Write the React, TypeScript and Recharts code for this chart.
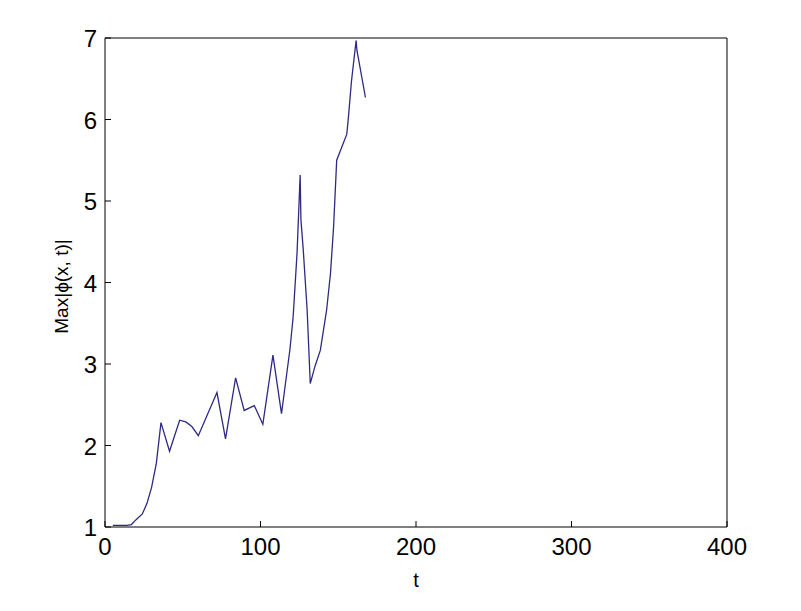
import React from "react";
import { LineChart, Line, XAxis, YAxis } from "recharts";

const tValues = [5, 14, 17, 20, 24, 27, 30, 33, 36, 41.5, 48, 52, 56, 60, 72, 77.5, 84, 89.5, 96, 101.5, 108, 113.5, 119, 121, 123.5, 125.5, 126, 127.5, 130, 132, 135, 138.5, 142.5, 145, 147, 149, 155.5, 156.5, 158.5, 161.5, 162, 167.5];
const maxPhi = [1.02, 1.02, 1.03, 1.09, 1.16, 1.29, 1.49, 1.78, 2.28, 1.93, 2.31, 2.29, 2.23, 2.12, 2.65, 2.08, 2.83, 2.43, 2.49, 2.26, 3.11, 2.39, 3.19, 3.58, 4.36, 5.32, 4.77, 4.4, 3.66, 2.76, 2.97, 3.17, 3.66, 4.11, 4.68, 5.5, 5.82, 6.02, 6.47, 6.97, 6.85, 6.27];
const xTicks = [0, 100, 200, 300, 400];
const yTicks = [1, 2, 3, 4, 5, 6, 7];

const data = tValues.map((t, i) => ({ t, v: maxPhi[i] }));

const FONT = "'Liberation Sans', Arial, Helvetica, sans-serif";

// Plot box inside the svg
const M = { top: 30, right: 66, bottom: 76, left: 97 };
const W = 785;
const H = 595;

const BottomTick = (props: any) => {
  const { x, payload } = props;
  return (
    <text x={x} y={H - M.bottom + 28} textAnchor="middle" fontSize={24} fontFamily={FONT} fill="#000">
      {payload.value}
    </text>
  );
};
const LeftTick = (props: any) => {
  const { y, payload } = props;
  return (
    <text x={M.left - 8} y={y + 9} textAnchor="end" fontSize={24} fontFamily={FONT} fill="#000">
      {payload.value}
    </text>
  );
};

const axisLine = { stroke: "#000", strokeWidth: 1 };
const tickLine = { stroke: "#000", strokeWidth: 1 };

export default function App() {
  const plotCx = M.left + (W - M.left - M.right) / 2;
  const plotCy = M.top + (H - M.top - M.bottom) / 2;
  return (
    <div style={{ width: W, height: H, background: "#fff", position: "relative" }}>
      <LineChart width={W} height={H} data={data} margin={M}>
        <XAxis
          dataKey="t"
          type="number"
          domain={[0, 400]}
          ticks={xTicks}
          interval={0}
          mirror
          tickSize={6}
          tickMargin={0}
          tickLine={tickLine}
          tick={<BottomTick />}
          axisLine={axisLine}
        />
        <XAxis
          xAxisId="top"
          dataKey="t"
          orientation="top"
          type="number"
          domain={[0, 400]}
          ticks={xTicks}
          interval={0}
          mirror
          tickSize={6}
          tickLine={tickLine}
          tick={false}
          axisLine={axisLine}
        />
        <YAxis
          type="number"
          domain={[1, 7]}
          ticks={yTicks}
          interval={0}
          mirror
          tickSize={6}
          tickMargin={0}
          tickLine={tickLine}
          tick={<LeftTick />}
          axisLine={axisLine}
        />
        <YAxis
          yAxisId="right"
          orientation="right"
          type="number"
          domain={[1, 7]}
          ticks={yTicks}
          interval={0}
          mirror
          tickSize={6}
          tickLine={tickLine}
          tick={false}
          axisLine={axisLine}
        />
        <Line
          xAxisId="top"
          yAxisId="right"
          dataKey="v"
          type="linear"
          stroke="none"
          dot={false}
          activeDot={false}
          legendType="none"
          isAnimationActive={false}
        />
        <Line
          dataKey="v"
          type="linear"
          stroke="#2e2a82"
          strokeWidth={1.3}
          dot={false}
          activeDot={false}
          isAnimationActive={false}
        />
        <text
          x={60}
          y={plotCy + 4}
          transform={`rotate(-90, 60, ${plotCy + 4})`}
          textAnchor="middle"
          fontSize={19}
          fontFamily={FONT}
          fill="#000"
        >
          Max|ϕ(x, t)|
        </text>
        <text x={plotCx} y={H - M.bottom + 60} textAnchor="middle" fontSize={20} fontFamily={FONT} fill="#000">
          t
        </text>
      </LineChart>
    </div>
  );
}
